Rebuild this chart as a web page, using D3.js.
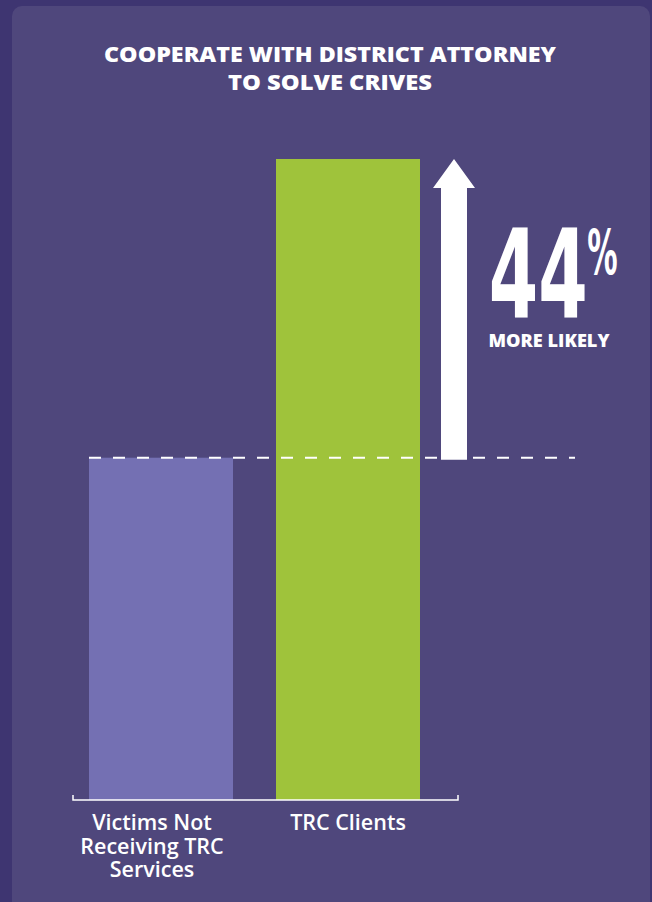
<!DOCTYPE html>
<html>
<head>
<meta charset="utf-8">
<script src="https://cdn.jsdelivr.net/npm/d3@7/dist/d3.min.js"></script>
<style>
  html, body { margin: 0; padding: 0; background: #3e3571; }
  svg { display: block; }
</style>
</head>
<body>
<svg id="chart" width="652" height="902"></svg>
<script>
// ---- data ----
const titleLines = ["COOPERATE WITH DISTRICT ATTORNEY", "TO SOLVE CRIVES"];
const categories = ["Victims Not Receiving TRC Services", "TRC Clients"];
const labelLines = [["Victims Not", "Receiving TRC", "Services"], ["TRC Clients"]];
const values = [53.4, 100];          // relative bar heights as drawn
const barColors = ["#7470b3", "#9fc33b"];
const calloutValue = "44";
const calloutUnit = "%";
const calloutText = "MORE LIKELY";

// ---- setup ----
const W = 652, H = 902;
const svg = d3.select("#chart");
const font = "'Open Sans', 'Noto Sans', sans-serif";

// panel
svg.append("rect").attr("x", 0).attr("y", 0).attr("width", W).attr("height", H).attr("fill", "#3e3571");
svg.append("rect").attr("x", 12).attr("y", 6).attr("width", 638).attr("height", H + 20)
  .attr("rx", 10).attr("ry", 10).attr("fill", "#4f477c");

const x = d3.scaleBand().domain(categories).range([89, 420]).paddingInner(0.23).paddingOuter(0);
const y = d3.scaleLinear().domain([0, 100]).range([800, 159]);

// title
const title = svg.append("g");
titleLines.forEach((t, i) => {
  title.append("text")
    .attr("x", 330).attr("y", i === 0 ? 62 : 90)
    .attr("text-anchor", "middle")
    .attr("fill", "#fff")
    .attr("font-family", font)
    .attr("font-weight", 800)
    .attr("font-size", 20.5)
    .attr("textLength", i === 0 ? 452 : 204)
    .attr("lengthAdjust", "spacingAndGlyphs")
    .text(t);
});

// bars
svg.append("g").selectAll("rect").data(categories).join("rect")
  .attr("x", d => x(d))
  .attr("y", (d, i) => y(values[i]))
  .attr("width", x.bandwidth())
  .attr("height", (d, i) => y(0) - y(values[i]))
  .attr("fill", (d, i) => barColors[i]);

// dashed reference line at first bar's value
svg.append("line")
  .attr("x1", x(categories[0])).attr("x2", 575)
  .attr("y1", y(values[0])).attr("y2", y(values[0]))
  .attr("stroke", "#fff").attr("stroke-width", 2)
  .attr("stroke-dasharray", "12,12");

// arrow from base value to top value
const ax = 454, shaftW = 26, headW = 42, headH = 29;
const yBase = y(values[0]) + 2, yTip = y(values[1]);
svg.append("path")
  .attr("d", d3.line()([
    [ax - shaftW / 2, yBase], [ax - shaftW / 2, yTip + headH], [ax - headW / 2, yTip + headH],
    [ax, yTip], [ax + headW / 2, yTip + headH], [ax + shaftW / 2, yTip + headH], [ax + shaftW / 2, yBase]
  ]) + "Z")
  .attr("fill", "#fff");

// big callout number, fitted into its glyph box
function fitGlyphs(txt, box, weight, family) {
  const c = document.createElement("canvas").getContext("2d");
  c.font = `${weight} 100px ${family}`;
  const m = c.measureText(txt);
  const gw = m.actualBoundingBoxLeft + m.actualBoundingBoxRight;
  const gh = m.actualBoundingBoxAscent + m.actualBoundingBoxDescent;
  const sx = box.w / gw, sy = box.h / gh;
  svg.append("text").attr("fill", "#fff").attr("font-family", family)
    .attr("font-weight", weight).attr("font-size", 100).text(txt)
    .attr("transform", `translate(${box.x + m.actualBoundingBoxLeft * sx},${box.y + m.actualBoundingBoxAscent * sy}) scale(${sx},${sy})`);
}
const condensed = "'DejaVu Sans Condensed', 'DejaVu Sans', sans-serif";
fitGlyphs(calloutValue, {x: 492, y: 227, w: 93, h: 91}, "bold", condensed);
fitGlyphs(calloutUnit, {x: 588, y: 227, w: 29, h: 48}, "bold", condensed);

svg.append("text")
  .attr("x", 549).attr("y", 347)
  .attr("text-anchor", "middle")
  .attr("fill", "#fff").attr("font-family", font).attr("font-weight", 800)
  .attr("font-size", 17).attr("textLength", 121).attr("lengthAdjust", "spacingAndGlyphs")
  .text(calloutText);

// axis (bracket)
const axisG = svg.append("g");
axisG.append("path")
  .attr("d", "M73,795V800H458V795")
  .attr("fill", "none").attr("stroke", "#fff").attr("stroke-width", 1.5);

// category labels
const labelOffset = [-9, 0];
categories.forEach((c, i) => {
  labelLines[i].forEach((l, j) => {
    svg.append("text")
      .attr("text-anchor", "middle")
      .attr("fill", "#fff").attr("font-family", font).attr("font-weight", 600)
      .attr("font-size", 21.5)
      .attr("x", x(c) + x.bandwidth() / 2 + labelOffset[i])
      .attr("y", 830 + j * 23.5).text(l);
  });
});
</script>
</body>
</html>
